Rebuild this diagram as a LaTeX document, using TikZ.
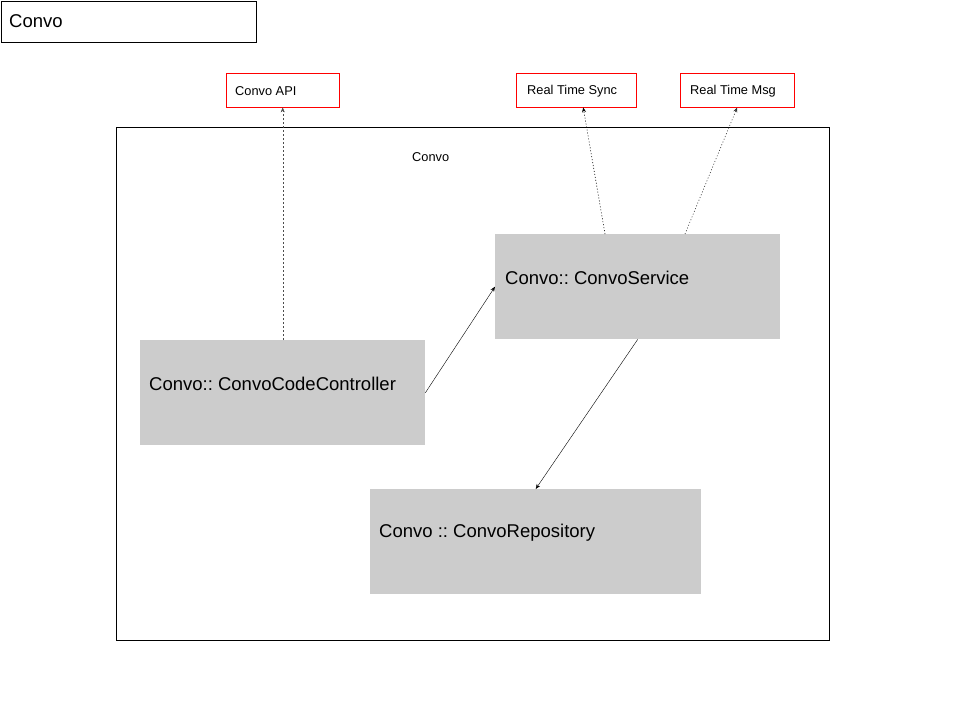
\documentclass[tikz,border=0pt]{standalone}
\usepackage{fontspec}
\setmainfont{Liberation Sans}
\frenchspacing
\usetikzlibrary{positioning}
\usetikzlibrary{calc}
\usetikzlibrary{arrows.meta}

\begin{document}
\begin{tikzpicture}[
	x=1pt, y=-1pt,
	tbox/.style={rectangle, draw, thin, anchor=north west, inner sep=0pt},
	ext/.style={rectangle, draw=red, thin, anchor=north west, inner sep=0pt, minimum width=113pt, minimum height=34pt},
	comp/.style={rectangle, fill=black!20, anchor=north west, inner sep=0pt, minimum width=285pt, minimum height=105pt},
	big/.style={anchor=west, inner sep=0pt, font=\fontsize{18.5}{20}\selectfont},
	small/.style={anchor=west, inner sep=0pt, font=\fontsize{12.8}{14}\selectfont},
	tip/.style={-{Stealth[length=5pt, width=4pt]}},
	]
	\useasboundingbox (0,0) rectangle (960,720);

	\node[tbox, minimum width=255pt, minimum height=41pt] (Title) at (1,1) {};
	\node[big] (TitleText) at ($(Title.north west)+(8,20)$) {Convo};

	\node[ext] (API) at (226,73) {};
	\node[small] at ($(API.north west)+(9,18)$) {Convo API};
	\node[ext, minimum width=120pt] (Sync) at (516,73) {};
	\node[small] at ($(Sync.north west)+(11,18)$) {Real Time Sync};
	\node[ext, minimum width=114pt] (Msg) at (680,73) {};
	\node[small] at ($(Msg.north west)+(10,18)$) {Real Time Msg};

	\node[tbox, minimum width=713pt, minimum height=513pt] (Outer) at (116,127) {};
	\node[small] (OuterText) at ($(Outer.north west)+(296,30)$) {Convo};

	\node[comp] (Service) at (495,234) {};
	\node[big] at ($(Service.north west)+(10,44)$) {Convo:: ConvoService};
	\node[comp] (Ctrl) at (140,340) {};
	\node[big] at ($(Ctrl.north west)+(9,44)$) {Convo:: ConvoCodeController};
	\node[comp, minimum width=331pt] (Repo) at (370,489) {};
	\node[big] at ($(Repo.north west)+(9,44)$) {Convo :: ConvoRepository};

	\draw[tip, black!70, dash pattern=on 2pt off 2pt] (Ctrl.north) -- (API.south);
	\draw[tip, black, line width=0.6pt, dash pattern=on 1pt off 2pt] ($(Service.north west)+(110,0)$) -- ($(Sync.south)+(7,0)$);
	\draw[tip, black!80, line width=0.6pt, dash pattern=on 1pt off 2pt] ($(Service.north west)+(190,0)$) -- (Msg.south);

	\draw[tip] (Ctrl.east) -- (Service.west);
	\draw[tip] (Service.south) -- (Repo.north);

\end{tikzpicture}
\end{document}
